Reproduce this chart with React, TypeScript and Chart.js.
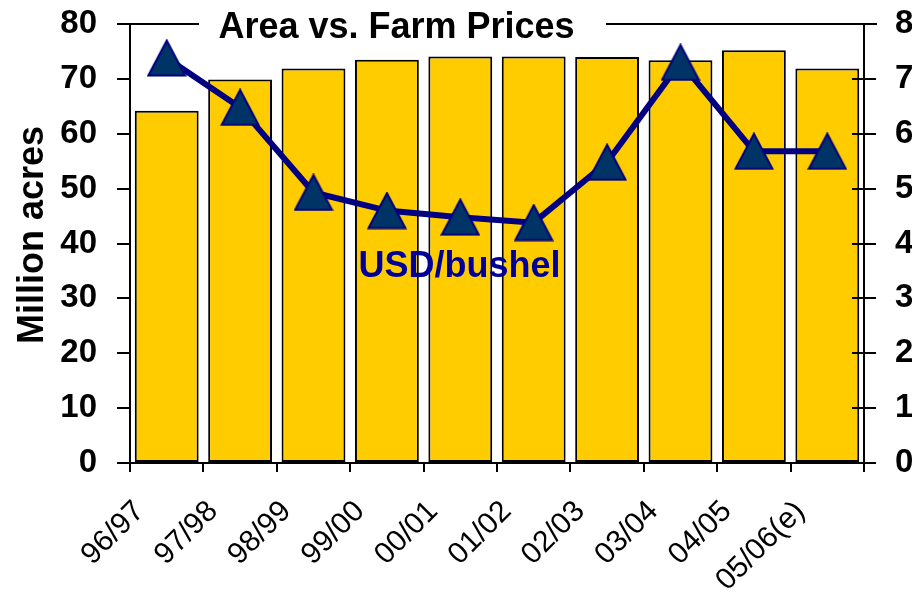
import React, { useEffect, useRef } from 'react';
import { Chart, registerables } from 'chart.js';

Chart.register(...registerables);

// ---- data ----
const categories = ['96/97', '97/98', '98/99', '99/00', '00/01', '01/02', '02/03', '03/04', '04/05', '05/06(e)'];
const areaMillionAcres = [64.2, 69.9, 71.9, 73.5, 74.1, 74.1, 74.0, 73.4, 75.2, 71.9];
const priceUsdPerBushel = [7.38, 6.48, 4.93, 4.6, 4.48, 4.38, 5.48, 7.3, 5.68, 5.68];
const leftAxisRange = [0, 80];
const rightAxisRange = [0, 8];
const leftStep = 10;
const rightStep = 1;

const chartTitle = 'Area vs. Farm Prices';
const leftAxisTitle = 'Million acres';
const lineLabel = 'USD/bushel';

const FONT = "'Liberation Sans', Arial, Helvetica, sans-serif";
const NAVY = '#000080';

function makeTriangle(): HTMLCanvasElement {
  const c = document.createElement('canvas');
  c.width = 40;
  c.height = 38;
  const g = c.getContext('2d')!;
  g.beginPath();
  g.moveTo(20, 1.5);
  g.lineTo(38.5, 36.5);
  g.lineTo(1.5, 36.5);
  g.closePath();
  g.fillStyle = '#003366';
  g.fill();
  g.lineWidth = 2;
  g.strokeStyle = NAVY;
  g.stroke();
  return c;
}

const decorPlugin = {
  id: 'decor',
  afterDraw(chart: any) {
    const { ctx, chartArea, scales } = chart;
    const yR = scales.y1;
    ctx.save();
    ctx.strokeStyle = '#000';
    ctx.lineWidth = 2;
    // inner parts of right-axis ticks (they cross the axis)
    yR.ticks.forEach((t: any) => {
      const py = Math.round(yR.getPixelForValue(t.value));
      ctx.beginPath();
      ctx.moveTo(chartArea.right - 12, py);
      ctx.lineTo(chartArea.right, py);
      ctx.stroke();
    });
    // top frame line
    const topY = Math.round(chartArea.top);
    ctx.beginPath();
    ctx.moveTo(chartArea.left - 13, topY);
    ctx.lineTo(chartArea.right + 13, topY);
    ctx.stroke();

    // title with white background
    ctx.font = `bold 36px ${FONT}`;
    ctx.fillStyle = '#fff';
    ctx.fillRect(199, topY - 10, 407, 20);
    ctx.fillStyle = '#000';
    ctx.textAlign = 'center';
    ctx.textBaseline = 'alphabetic';
    ctx.fillText(chartTitle, 396.5, 38);

    // series label
    ctx.fillStyle = '#000099';
    ctx.fillText(lineLabel, 459.5, 277);

    // left axis title
    ctx.translate(43, 235);
    ctx.rotate(-Math.PI / 2);
    ctx.fillStyle = '#000';
    ctx.fillText(leftAxisTitle, 0, 0);
    ctx.restore();
  },
};

export default function App() {
  const ref = useRef<HTMLCanvasElement | null>(null);

  useEffect(() => {
    if (!ref.current) return;
    const tri = makeTriangle();
    const chart = new Chart(ref.current, {
      type: 'bar',
      data: {
        labels: categories,
        datasets: [
          {
            type: 'line',
            label: lineLabel,
            data: priceUsdPerBushel,
            yAxisID: 'y1',
            borderColor: NAVY,
            borderWidth: 6,
            pointStyle: tri as any,
            pointRadius: 18,
            tension: 0,
            order: 0,
          } as any,
          {
            type: 'bar',
            label: leftAxisTitle,
            data: areaMillionAcres,
            yAxisID: 'y',
            backgroundColor: '#FFCC00',
            borderColor: '#000',
            borderWidth: 2,
            borderSkipped: false,
            barPercentage: 0.87,
            categoryPercentage: 1,
            order: 1,
          } as any,
        ],
      },
      options: {
        responsive: false,
        animation: false,
        layout: { padding: { top: 24, left: 0, right: 0, bottom: 0 } },
        plugins: {
          legend: { display: false },
          tooltip: { enabled: false },
          title: { display: false },
        },
        scales: {
          x: {
            offset: true,
            grid: {
              display: true,
              offset: true,
              drawOnChartArea: false,
              drawTicks: true,
              tickLength: 9,
              color: '#000',
              lineWidth: 2,
            },
            border: { display: true, color: '#000', width: 2 },
            ticks: {
              autoSkip: false,
              minRotation: 45,
              maxRotation: 45,
              labelOffset: -27,
              padding: 22,
              color: '#000',
              font: { family: FONT, size: 30, weight: 'normal' },
            },
            afterFit: (s: any) => {
              s.height = 134;
              s.paddingLeft = 0;
              s.paddingRight = 0;
            },
          },
          y: {
            position: 'left',
            min: leftAxisRange[0],
            max: leftAxisRange[1],
            grid: {
              drawOnChartArea: false,
              drawTicks: true,
              tickLength: 13,
              color: '#000',
              lineWidth: 2,
            },
            border: { display: true, color: '#000', width: 2 },
            ticks: {
              stepSize: leftStep,
              padding: 20,
              color: '#000',
              font: { family: FONT, size: 33, weight: 'bold' },
            },
            afterFit: (s: any) => {
              s.width = 130;
              s.paddingTop = 0;
              s.paddingBottom = 0;
            },
          },
          y1: {
            position: 'right',
            min: rightAxisRange[0],
            max: rightAxisRange[1],
            grid: {
              drawOnChartArea: false,
              drawTicks: true,
              tickLength: 12,
              color: '#000',
              lineWidth: 2,
            },
            border: { display: true, color: '#000', width: 2 },
            ticks: {
              stepSize: rightStep,
              padding: 19,
              color: '#000',
              font: { family: FONT, size: 33, weight: 'bold' },
            },
            afterFit: (s: any) => {
              s.width = 48;
              s.paddingTop = 0;
              s.paddingBottom = 0;
            },
          },
        },
      } as any,
      plugins: [decorPlugin],
    });
    return () => chart.destroy();
  }, []);

  return (
    <div style={{ position: 'fixed', left: 0, top: 0, width: 912, height: 597, background: '#fff' }}>
      <canvas ref={ref} width={912} height={597} style={{ display: 'block' }} />
    </div>
  );
}
